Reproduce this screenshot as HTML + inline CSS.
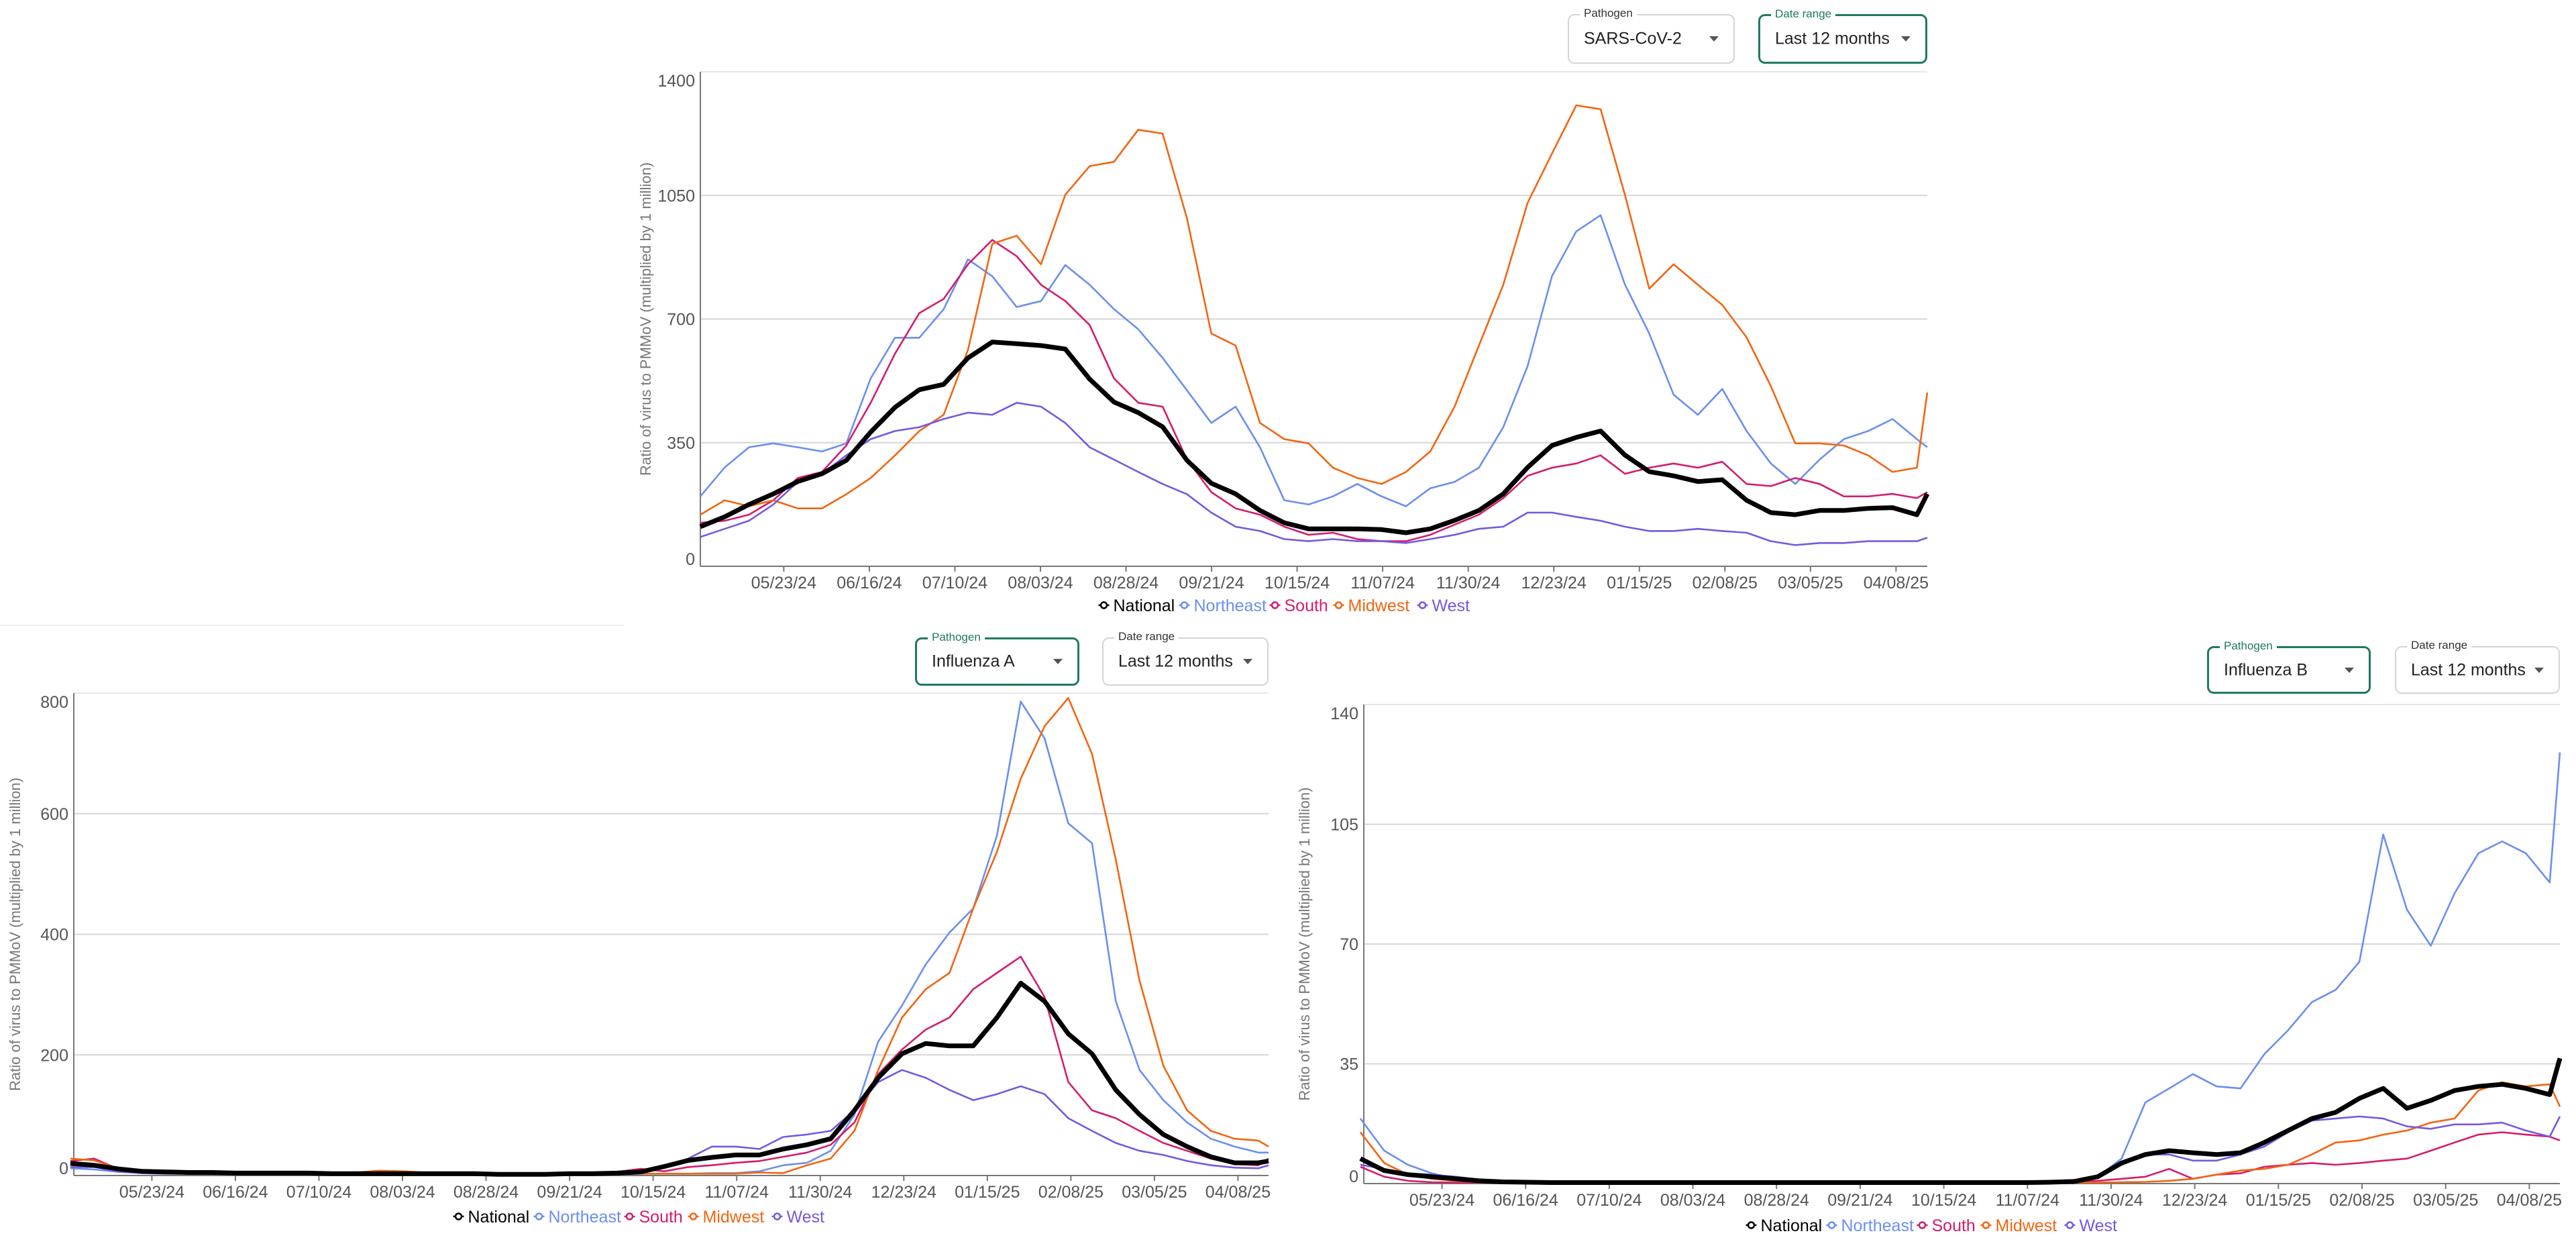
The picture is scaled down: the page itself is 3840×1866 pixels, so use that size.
<!DOCTYPE html>
<html><head><meta charset="utf-8">
<style>
html,body{margin:0;padding:0;background:#fff;}
body{width:3840px;height:1866px;position:relative;overflow:hidden;font-family:"Liberation Sans",sans-serif;}
.dd{position:absolute;box-sizing:border-box;border:2px solid #d4d4d4;border-radius:10px;background:#fff;}
.dd.active{border:3px solid #1f7a63;}
.dd .lbl{position:absolute;left:16px;top:-13px;background:#fff;padding:0 6px;font-size:17px;color:#333;}
.dd.active .lbl{color:#1f7a63;}
.dd .val{position:absolute;left:22px;top:50%;transform:translateY(-50%);font-size:25px;color:#222;}
.dd .arr{position:absolute;right:22px;top:50%;transform:translateY(-50%);width:0;height:0;border-left:7px solid transparent;border-right:7px solid transparent;border-top:8px solid #555;}
svg{position:absolute;left:0;top:0;}
</style></head><body>
<div style="position:absolute;left:0;top:931px;width:930px;height:2px;background:#f1f1f1"></div>

<div class="dd" style="left:2337px;top:21px;width:249px;height:74px"><span class="lbl">Pathogen</span><span class="val">SARS-CoV-2</span><span class="arr"></span></div>
<div class="dd active" style="left:2621px;top:21px;width:252px;height:74px"><span class="lbl">Date range</span><span class="val">Last 12 months</span><span class="arr"></span></div>

<div class="dd active" style="left:1364px;top:950px;width:245px;height:72px"><span class="lbl">Pathogen</span><span class="val">Influenza A</span><span class="arr"></span></div>
<div class="dd" style="left:1643px;top:950px;width:248px;height:72px"><span class="lbl">Date range</span><span class="val">Last 12 months</span><span class="arr"></span></div>

<div class="dd active" style="left:3290px;top:963px;width:244px;height:71px"><span class="lbl">Pathogen</span><span class="val">Influenza B</span><span class="arr"></span></div>
<div class="dd" style="left:3570px;top:963px;width:246px;height:71px"><span class="lbl">Date range</span><span class="val">Last 12 months</span><span class="arr"></span></div>

<svg id="chart" width="3840" height="1866" xmlns="http://www.w3.org/2000/svg"></svg>

<script>
// ---- shared categories ----
const dates = ["2024-04-29","2024-05-06","2024-05-13","2024-05-20","2024-05-27","2024-06-03","2024-06-10","2024-06-17","2024-06-24","2024-07-01","2024-07-08","2024-07-15","2024-07-22","2024-07-29","2024-08-05","2024-08-12","2024-08-19","2024-08-26","2024-09-02","2024-09-09","2024-09-16","2024-09-23","2024-09-30","2024-10-07","2024-10-14","2024-10-21","2024-10-28","2024-11-04","2024-11-11","2024-11-18","2024-11-25","2024-12-02","2024-12-09","2024-12-16","2024-12-23","2024-12-30","2025-01-06","2025-01-13","2025-01-20","2025-01-27","2025-02-03","2025-02-10","2025-02-17","2025-02-24","2025-03-03","2025-03-10","2025-03-17","2025-03-24","2025-03-31","2025-04-07","2025-04-14","2025-04-17"];
const xTickLabels = ["05/23/24","06/16/24","07/10/24","08/03/24","08/28/24","09/21/24","10/15/24","11/07/24","11/30/24","12/23/24","01/15/25","02/08/25","03/05/25","04/08/25"];
const xTickFirst = "2024-05-23";
const xTickLast = "2025-04-08";
const seriesNames = ["National","Northeast","South","Midwest","West"];

// ---- SARS-CoV-2 ----
const covTicks = [0,350,700,1050,1400];
const covNational = [112,140,175,205,240,262,300,380,450,500,515,590,635,630,625,615,530,465,435,395,300,235,205,158,123,106,106,106,104,95,106,130,158,205,280,342,365,383,315,268,256,240,245,187,152,146,158,158,164,166,146,205];
const covNortheast = [198,280,337,348,337,325,348,532,647,647,728,869,821,734,751,853,797,728,671,590,498,406,452,337,187,175,198,233,198,170,221,239,279,394,567,821,948,994,798,659,486,429,502,383,291,233,302,360,383,417,360,337];
const covSouth = [123,129,146,187,250,267,342,463,602,717,757,855,924,878,797,751,683,532,463,452,302,210,164,146,112,89,95,77,71,71,89,118,146,193,256,279,291,314,262,279,291,279,296,233,227,250,233,198,198,205,193,210];
const covMidwest = [146,187,170,187,164,164,204,250,314,383,429,613,913,936,855,1052,1133,1145,1236,1225,985,659,625,406,360,348,279,250,233,267,325,452,625,797,1029,1168,1305,1294,1052,786,855,797,740,648,510,348,348,342,314,267,279,492];
const covWest = [83,106,129,175,239,262,314,360,383,394,417,435,429,463,452,406,337,302,267,233,204,152,112,100,77,71,77,71,71,66,77,89,106,112,152,152,140,129,112,100,100,106,100,95,71,60,66,66,71,71,71,81];

// ---- Influenza A ----
const fluATicks = [0,200,400,600,800];
const fluANational = [20,17,11,7,6,5,5,4,4,4,4,3,3,3,3,3,3,3,2,2,2,3,3,4,6,15,25,30,34,34,44,51,61,108,162,202,219,215,215,262,319,289,235,202,142,101,68,48,31,21,21,24];
const fluANortheast = [12,10,6,4,3,3,3,3,3,3,3,3,3,3,3,3,3,3,2,2,2,2,2,2,3,3,3,4,4,7,17,21,41,101,222,282,350,403,443,564,786,725,584,551,289,175,125,88,61,48,38,38];
const fluASouth = [24,28,11,6,5,5,5,4,4,4,4,4,4,4,4,4,3,3,3,3,3,4,5,6,11,7,14,17,21,24,31,38,51,88,168,209,242,262,309,336,363,296,155,108,95,74,54,41,28,19,17,28];
const fluAMidwest = [28,25,12,8,6,5,5,5,5,4,4,4,5,8,7,5,4,4,3,3,3,3,3,3,3,3,3,3,3,5,4,17,28,74,175,262,309,336,443,537,658,745,792,699,524,323,182,108,74,61,58,48];
const fluAWest = [14,14,7,4,3,3,3,3,3,3,3,3,3,3,3,3,3,3,3,3,3,3,4,5,7,14,28,48,48,44,64,68,74,108,155,175,162,142,125,135,148,135,95,74,54,41,34,24,17,13,12,17];

// ---- Influenza B ----
const fluBTicks = [0,35,70,105,140];
const fluBNational = [7.3,3.8,2.6,2,1.4,0.8,0.5,0.4,0.3,0.3,0.3,0.3,0.3,0.3,0.3,0.3,0.3,0.3,0.3,0.3,0.3,0.3,0.3,0.3,0.3,0.3,0.3,0.3,0.3,0.4,0.6,2,6,8.5,9.6,9,8.5,9,12,15.5,19,20.8,24.9,27.8,22,24.3,27.2,28.4,29,27.8,26,36.6];
const fluBNortheast = [19,9.6,5.5,3,1.4,0.8,0.6,0.5,0.5,0.5,0.5,0.5,0.5,0.5,0.5,0.5,0.5,0.5,0.5,0.5,0.5,0.5,0.5,0.5,0.5,0.5,0.5,0.5,0.5,0.6,0.8,2,7.3,23.7,27.8,32,28.4,27.8,37.8,44.8,53,56.6,64.8,102,80,69.5,84.8,96.5,100,96.5,88,126];
const fluBSouth = [4.9,2,0.8,0.4,0.3,0.3,0.3,0.3,0.3,0.3,0.3,0.3,0.3,0.3,0.3,0.3,0.3,0.3,0.3,0.3,0.3,0.3,0.3,0.3,0.3,0.3,0.3,0.3,0.3,0.3,0.4,0.8,1.4,2,4.3,1.4,2.6,3,4.9,5.5,6,5.5,6,6.7,7.3,9.6,12,14.3,15,14.3,13.7,12.6];
const fluBMidwest = [15,6,2.6,1.4,0.8,0.5,0.4,0.3,0.3,0.3,0.3,0.3,0.3,0.3,0.3,0.3,0.3,0.3,0.3,0.3,0.3,0.3,0.3,0.3,0.3,0.3,0.3,0.3,0.3,0.3,0.3,0.3,0.4,0.5,0.8,1.4,2.6,3.8,4.3,5.5,8.5,12,12.6,14.3,15.5,17.8,19,27.2,29.6,28.4,29,22.5];
const fluBWest = [5.5,4.3,3,2.6,2,1.2,0.8,0.7,0.6,0.6,0.6,0.5,0.5,0.5,0.5,0.5,0.5,0.5,0.5,0.5,0.5,0.5,0.5,0.5,0.5,0.5,0.5,0.5,0.6,0.7,0.9,1.6,5.5,8.5,8.5,6.7,6.7,8.5,10.8,15,18.4,19,19.6,19,16.7,16,17.3,17.3,17.8,15.5,13.7,19.6];

const colors = {National:"#000000",Northeast:"#6a8ff0",South:"#d41c6c",Midwest:"#f26511",West:"#7658e0"};
const NS = "http://www.w3.org/2000/svg";
const svg = document.getElementById("chart");
function el(tag, attrs, parent){const e=document.createElementNS(NS,tag);for(const k in attrs)e.setAttribute(k,attrs[k]);(parent||svg).appendChild(e);return e;}
function toT(s){return Date.parse(s+"T00:00:00Z");}

function drawChart(cfg){
  const g = el("g",{});
  
  
  const t0 = toT(cfg.xStart), t1 = toT(cfg.xEnd);
  const xs = d => cfg.x0 + (toT(d)-t0)/(t1-t0)*(cfg.x1-cfg.x0);
  const ymax = cfg.ticks[cfg.ticks.length-1];
  const ys = v => cfg.y1 - v/ymax*(cfg.y1-cfg.y0);
  const tb = el("line",{x1:cfg.x0,x2:cfg.x1,y1:cfg.y0,y2:cfg.y0,stroke:"#e6e6e6","stroke-width":2},g);
  
  
  cfg.ticks.forEach((v,i)=>{
    const y = ys(v);
    if(v>0 && v<ymax){
      const gl = el("line",{x1:cfg.x0,x2:cfg.x1,y1:y,y2:y,stroke:"#d6d6d6","stroke-width":2},g);
      
      
    }
    const ty = (i===cfg.ticks.length-1)? y+22 : (v===0? y-2 : y+9);
    const tx = el("text",{x:cfg.x0-8,y:ty,"text-anchor":"end","font-size":25,fill:"#555","font-family":"Liberation Sans, sans-serif"},g);
    tx.textContent = v;
    
    
  });
  const ya = el("line",{x1:cfg.x0,x2:cfg.x0,y1:cfg.y0,y2:cfg.y1,stroke:"#777","stroke-width":2},g);
  
  
  const xa = el("line",{x1:cfg.x0,x2:cfg.x1,y1:cfg.y1,y2:cfg.y1,stroke:"#777","stroke-width":2},g);
  
  
  const xf = xs(xTickFirst), xl = xs(xTickLast), n = xTickLabels.length;
  xTickLabels.forEach((lab,i)=>{
    const x = xf + i*(xl-xf)/(n-1);
    const tk = el("line",{x1:x,x2:x,y1:cfg.y1,y2:cfg.y1+8,stroke:"#777","stroke-width":2},g);
    
    
    const tl = el("text",{x:x,y:cfg.y1+33,"text-anchor":"middle","font-size":25,fill:"#555","font-family":"Liberation Sans, sans-serif"},g);
    tl.textContent = lab;
    
    
  });
  const yt = el("text",{x:0,y:0,"text-anchor":"middle","font-size":22,fill:"#777","font-family":"Liberation Sans, sans-serif",transform:`translate(${cfg.titleX},${(cfg.y0+cfg.y1)/2}) rotate(-90)`},g);
  yt.textContent = "Ratio of virus to PMMoV (multiplied by 1 million)";
  
  
  const order = [1,2,3,4,0];
  order.forEach(i=>{
    const name = seriesNames[i], vals = cfg.series[i];
    const pts = vals.map((v,j)=>xs(dates[j]).toFixed(1)+","+ys(v).toFixed(1)).join(" ");
    const pl = el("polyline",{points:pts,fill:"none",stroke:colors[name],"stroke-width":name==="National"?7:2.6,"stroke-linejoin":"round"},g);
    
    
  });
  const widths = [120,135,95,125,80];
  const total = widths.reduce((a,b)=>a+b,0);
  let lx = cfg.legendX - total/2;
  seriesNames.forEach((name,i)=>{
    const lg = el("g",{},g);
    
    
    el("line",{x1:lx,x2:lx+16,y1:cfg.legendY,y2:cfg.legendY,stroke:colors[name],"stroke-width":2.5},lg);
    el("circle",{cx:lx+8,cy:cfg.legendY,r:4.5,fill:"#fff",stroke:colors[name],"stroke-width":2.5},lg);
    const lt = el("text",{x:lx+22,y:cfg.legendY+9,"font-size":25,fill:colors[name],"font-family":"Liberation Sans, sans-serif"},lg);
    lt.textContent = name;
    lx += widths[i];
  });
}

drawChart({name:"sars-cov-2-chart",x0:1044,x1:2873,y0:107,y1:844,xStart:"2024-04-29",xEnd:"2025-04-17",ticks:covTicks,titleX:970,legendX:1915,legendY:902,
  series:[covNational,covNortheast,covSouth,covMidwest,covWest]});
drawChart({name:"influenza-a-chart",x0:110,x1:1891,y0:1033,y1:1752,xStart:"2024-04-30",xEnd:"2025-04-17",ticks:fluATicks,titleX:30,legendX:953,legendY:1813,
  series:[fluANational,fluANortheast,fluASouth,fluAMidwest,fluAWest]});
drawChart({name:"influenza-b-chart",x0:2033,x1:3816,y0:1050,y1:1764,xStart:"2024-04-30",xEnd:"2025-04-17",ticks:fluBTicks,titleX:1952,legendX:2880,legendY:1826,
  series:[fluBNational,fluBNortheast,fluBSouth,fluBMidwest,fluBWest]});
</script>
</body></html>
